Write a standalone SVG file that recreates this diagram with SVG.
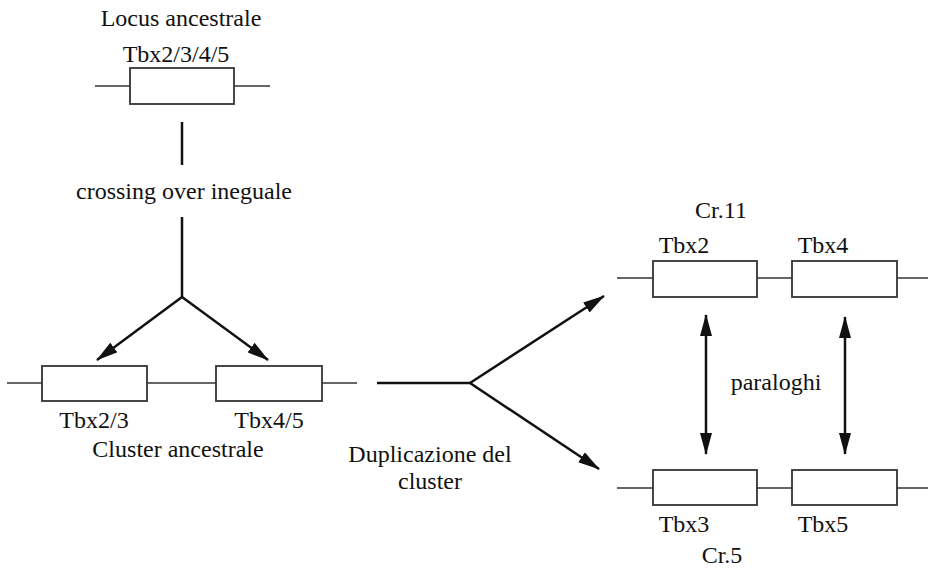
<svg xmlns="http://www.w3.org/2000/svg" width="928" height="570" viewBox="0 0 928 570">
<style>
text{font-family:"Liberation Serif","Times New Roman",serif;font-size:24px;fill:#111;text-anchor:middle}
.gl{stroke:#333;stroke-width:1.5;fill:none}
.box{fill:#fff;stroke:#333;stroke-width:1.8}
.ar{stroke:#111;stroke-width:2.5;fill:none}
</style>
<defs>
<marker id="ahs" markerWidth="22" markerHeight="12" refX="21" refY="6" orient="auto-start-reverse" markerUnits="userSpaceOnUse" viewBox="0 0 22 12">
<path d="M0,0 L22,6 L0,12 z" fill="#111"/>
</marker>
</defs>
<g id="locus">
<text x="181" y="26">Locus ancestrale</text>
<text x="176" y="62">Tbx2/3/4/5</text>
<line class="gl" x1="95" y1="86" x2="270" y2="86"/>
<rect class="box" x="130" y="68" width="104" height="36"/>
</g>
<g id="crossing">
<text x="184" y="199">crossing over ineguale</text>
</g>
<g id="cluster">
<line class="gl" x1="7" y1="383" x2="357" y2="383"/>
<rect class="box" x="42" y="366" width="105" height="35"/>
<rect class="box" x="216" y="366" width="106" height="35"/>
<text x="94" y="428">Tbx2/3</text>
<text x="269" y="428">Tbx4/5</text>
<text x="178" y="457">Cluster ancestrale</text>
</g>
<g id="duplicazione">
<text x="430" y="462">Duplicazione del</text>
<text x="430" y="489">cluster</text>
</g>
<g id="cr11">
<text x="721" y="218">Cr.11</text>
<text x="684" y="253">Tbx2</text>
<text x="823" y="253">Tbx4</text>
<line class="gl" x1="617" y1="278" x2="928" y2="278"/>
<rect class="box" x="653" y="261" width="104" height="36"/>
<rect class="box" x="792" y="261" width="105" height="36"/>
</g>
<g id="cr5">
<line class="gl" x1="617" y1="488" x2="928" y2="488"/>
<rect class="box" x="653" y="470" width="104" height="35"/>
<rect class="box" x="792" y="470" width="105" height="35"/>
<text x="684" y="532">Tbx3</text>
<text x="823" y="532">Tbx5</text>
<text x="722" y="563">Cr.5</text>
</g>
<g id="paraloghi">
<text x="776" y="390">paraloghi</text>
</g>
<g id="connectors">
<line class="ar" x1="182" y1="122" x2="182" y2="165" stroke-width="3"/>
<polyline class="ar" points="182,217 182,297"/>
<line class="ar" x1="182" y1="297" x2="97" y2="360" marker-end="url(#ahs)"/>
<line class="ar" x1="182" y1="297" x2="268" y2="360" marker-end="url(#ahs)"/>
<line class="ar" x1="377" y1="383" x2="470" y2="383"/>
<line class="ar" x1="470" y1="383" x2="604" y2="296" marker-end="url(#ahs)"/>
<line class="ar" x1="470" y1="383" x2="599" y2="469" marker-end="url(#ahs)"/>
<line class="ar" x1="706" y1="315" x2="706" y2="454" marker-start="url(#ahs)" marker-end="url(#ahs)"/>
<line class="ar" x1="845" y1="317" x2="845" y2="454" marker-start="url(#ahs)" marker-end="url(#ahs)"/>
</g>
</svg>
